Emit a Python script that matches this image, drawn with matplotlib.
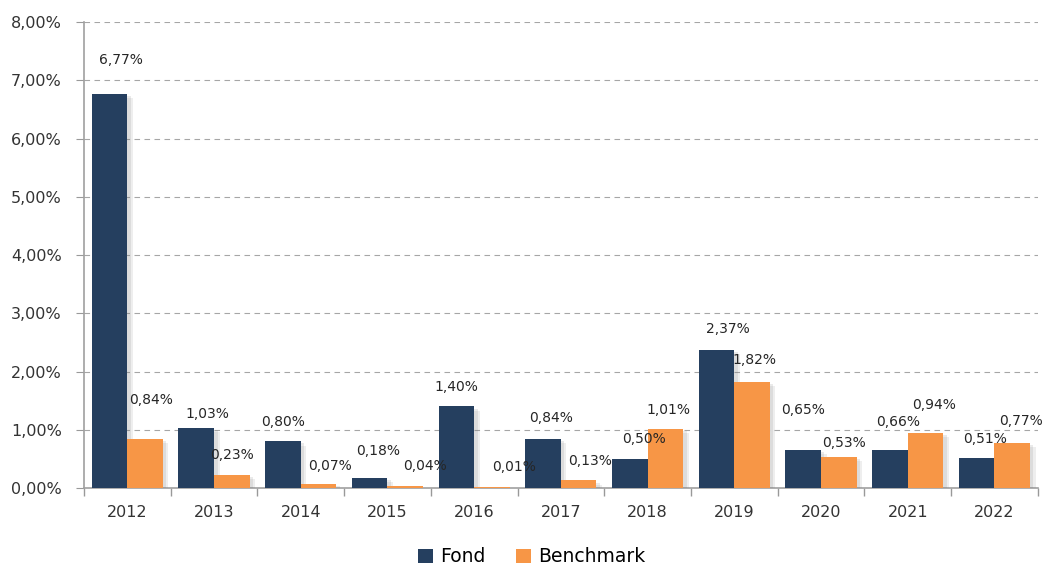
import matplotlib
matplotlib.use("Agg")
import matplotlib.pyplot as plt
import matplotlib.patheffects as pe
from matplotlib.patches import Patch
from matplotlib.ticker import FuncFormatter, MultipleLocator, FixedLocator
import numpy as np

years = ["2012", "2013", "2014", "2015", "2016", "2017", "2018", "2019", "2020", "2021", "2022"]
fond = [6.77, 1.03, 0.80, 0.18, 1.40, 0.84, 0.50, 2.37, 0.65, 0.66, 0.51]
benchmark = [0.84, 0.23, 0.07, 0.04, 0.01, 0.13, 1.01, 1.82, 0.53, 0.94, 0.77]

# label offsets (points) relative to bar top-centre
fond_dx = [8, 8, 0, 6, 0, 6, 10, 8, 0, 6, 6]
fond_dy = [24, 10, 14, 19, 14, 15, 14, 15, 29, 20, 14]
bench_dx = [4, 0, 8, 14, 16, 8, 2, 2, 4, 6, 6]
bench_dy = [28, 14, 13, 14, 15, 14, 14, 16, 10, 20, 16]

navy = "#253F5F"
orange = "#F79646"

plt.rcParams['font.family'] = ['DejaVu Sans']
fig = plt.figure(figsize=(10.43, 5.67), dpi=100)
ax = fig.add_axes([0.0805, 0.1393, 0.9145, 0.8219])

x = np.arange(len(years))
w = 0.41
shadow = [pe.SimplePatchShadow(offset=(4, -3), shadow_rgbFace='#777777', alpha=0.12),
          pe.SimplePatchShadow(offset=(2.5, -1.5), shadow_rgbFace='#777777', alpha=0.15),
          pe.Normal()]
b1 = ax.bar(x - w / 2, fond, w, color=navy, zorder=3)
b2 = ax.bar(x + w / 2, benchmark, w, color=orange, zorder=3)
for b in list(b1) + list(b2):
    b.set_path_effects(shadow)

def fmt(v):
    return f"{v:.2f}".replace(".", ",") + "%"

for i, v in enumerate(fond):
    ax.annotate(fmt(v), (x[i] - w / 2, v), xytext=(fond_dx[i], fond_dy[i]),
                textcoords="offset points", ha="center", va="center", fontsize=10, color="#262626", zorder=4)
for i, v in enumerate(benchmark):
    ax.annotate(fmt(v), (x[i] + w / 2, v), xytext=(bench_dx[i], bench_dy[i]),
                textcoords="offset points", ha="center", va="center", fontsize=10, color="#262626", zorder=4)

ax.set_xlim(-0.5, len(years) - 0.5)
ax.set_ylim(0, 8)
ax.yaxis.set_major_locator(MultipleLocator(1))
ax.yaxis.set_major_formatter(FuncFormatter(lambda v, p: f"{v:.2f}".replace(".", ",") + "%"))
ax.set_xticks(x)
ax.set_xticklabels(years, fontsize=11.5, color="#333333")
ax.xaxis.set_minor_locator(FixedLocator(np.arange(-0.5, len(years), 1.0)))
ax.tick_params(axis='x', which='major', length=0, pad=12)
ax.tick_params(axis='x', which='minor', length=6, color="#999999", width=1)
ax.tick_params(axis='y', length=6, color="#999999", labelsize=11.5, labelcolor="#333333", pad=10)

for s in ["top", "right"]:
    ax.spines[s].set_visible(False)
for s in ["left", "bottom"]:
    ax.spines[s].set_color("#a0a0a0")
    ax.spines[s].set_linewidth(1.2)

for yv in range(1, 9):
    ax.axhline(yv, color="#a6a6a6", lw=0.8, ls=(0, (5, 4)), zorder=1)

handles = [Patch(facecolor=navy), Patch(facecolor=orange)]
fig.legend(handles=handles, labels=["Fond", "Benchmark"], loc="center", bbox_to_anchor=(0.51, 0.018),
           ncol=2, frameon=False, fontsize=13.5, handlelength=0.8, handleheight=0.8,
           handletextpad=0.4, columnspacing=1.6)

fig.savefig("out.png", dpi=100)
